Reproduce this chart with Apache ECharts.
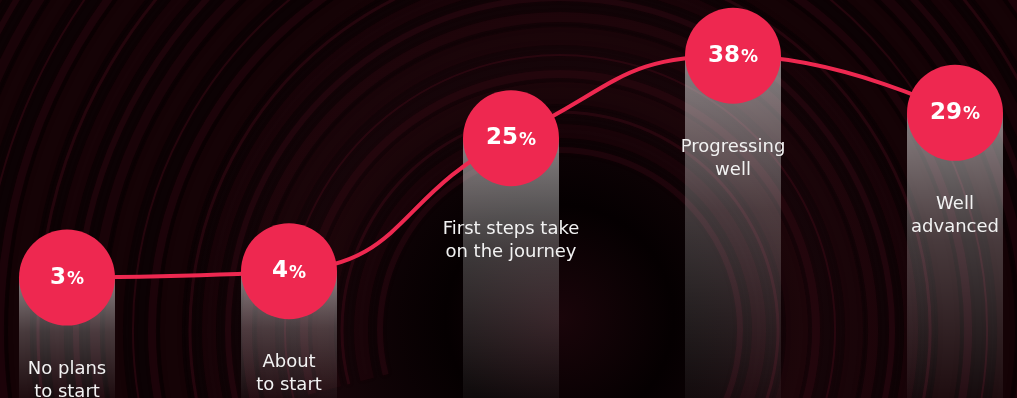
<!DOCTYPE html>
<html>
<head>
<meta charset="utf-8">
<style>
  html, body { margin: 0; padding: 0; background: #050002; }
  #chart { width: 1017px; height: 398px; }
</style>
<script src="https://cdn.jsdelivr.net/npm/echarts@6/dist/echarts.min.js"></script>
</head>
<body>
<div id="chart"></div>
<script>
// Stages of the journey and the share of respondents at each stage (%)
const stages = ['No plans\nto start', 'About\nto start', 'First steps take\non the journey', 'Progressing\nwell', 'Well\nadvanced'];
const shares = [3, 4, 25, 38, 29];

const RED = '#EE2850';
const chart = echarts.init(document.getElementById('chart'), null, { renderer: 'canvas' });

// Decorative swirl of soft dark maroon arcs behind the chart
const swirl = [];
const cx = 560, cy = 330;
const widths = [6, 14, 3, 22, 8, 2, 18, 10];
const alphas = [0.28, 0.16, 0.38, 0.13, 0.24, 0.4, 0.13, 0.2];
for (let i = 0; i < 30; i++) {
  const r = 180 + i * 19;
  swirl.push({
    type: 'arc',
    silent: true,
    z: -10,
    shape: { cx: cx, cy: cy, r: r, startAngle: Math.PI * 0.92, endAngle: Math.PI * 2.2 },
    style: {
      fill: null,
      stroke: 'rgba(70,13,26,' + alphas[i % 8] + ')',
      lineWidth: widths[i % 8],
      shadowBlur: 4,
      shadowColor: 'rgba(50,8,18,0.5)'
    }
  });
}

chart.setOption({
  backgroundColor: {
    type: 'radial', x: 0.55, y: 0.8, r: 0.95,
    colorStops: [
      { offset: 0, color: '#1a050a' },
      { offset: 0.3, color: '#050001' },
      { offset: 0.65, color: '#160509' },
      { offset: 1, color: '#0c0204' }
    ]
  },
  animation: false,
  graphic: swirl,
  grid: { left: 67, right: 62, top: 0, bottom: 0 },
  xAxis: {
    type: 'category',
    data: stages,
    boundaryGap: false,
    show: false
  },
  yAxis: {
    type: 'value',
    min: -16,
    max: 46.8,
    show: false
  },
  series: [
    {
      // translucent columns from each stage's value down to the bottom edge, with the stage name
      type: 'custom',
      clip: false,
      z: 1,
      data: shares,
      renderItem: function (params, api) {
        const idx = api.value(0);
        const top = api.coord([idx, api.value(1)]);
        const bottom = params.coordSys.y + params.coordSys.height;
        const w = 96;
        return {
          type: 'group',
          children: [
            {
              type: 'rect',
              shape: { x: top[0] - w / 2, y: top[1], width: w, height: bottom - top[1] },
              style: {
                fill: new echarts.graphic.LinearGradient(0, 0, 0, 1, [
                  { offset: 0, color: 'rgba(255,255,255,0.5)' },
                  { offset: 0.45, color: 'rgba(255,255,255,0.22)' },
                  { offset: 1, color: 'rgba(255,255,255,0.04)' }
                ])
              }
            },
            {
              type: 'text',
              z2: 5,
              style: {
                x: top[0],
                y: top[1] + 80,
                text: stages[idx],
                fill: '#f2f2f2',
                fontFamily: 'DejaVu Sans',
                fontSize: 18,
                lineHeight: 23,
                align: 'center',
                verticalAlign: 'top'
              }
            }
          ]
        };
      },
      encode: { x: 0, y: 1 }
    },
    {
      type: 'line',
      data: shares,
      smooth: 0.5,
      clip: false,
      z: 3,
      lineStyle: { color: RED, width: 4 },
      symbol: 'circle',
      symbolSize: 96,
      itemStyle: { color: RED },
      label: {
        show: true,
        position: 'inside',
        formatter: '{v|{c}}{p|%}',
        rich: {
          v: { fontFamily: 'DejaVu Sans', fontWeight: 'bold', fontSize: 23, color: '#ffffff' },
          p: { fontFamily: 'DejaVu Sans', fontWeight: 'bold', fontSize: 17, color: '#ffffff', padding: [4, 0, 0, 1] }
        }
      }
    }
  ]
});
</script>
</body>
</html>
